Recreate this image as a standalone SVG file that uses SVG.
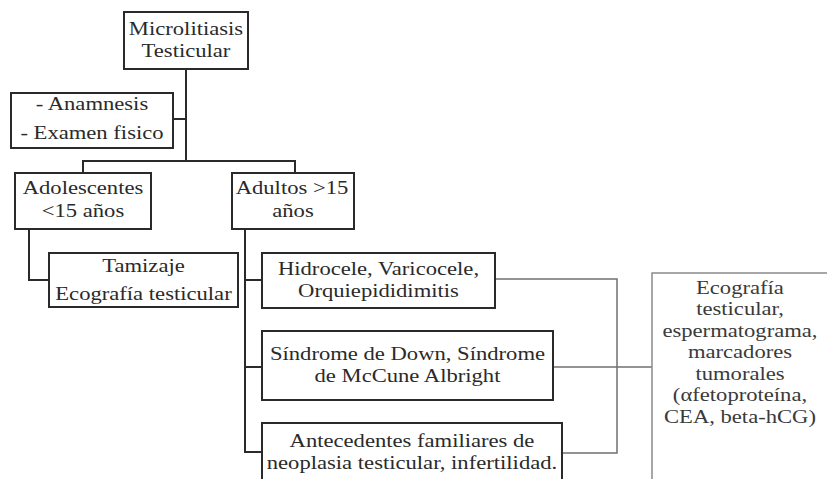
<svg xmlns="http://www.w3.org/2000/svg" width="827" height="479" viewBox="0 0 827 479">
<style>
  .box{fill:#fff;stroke:#2a2a2a;stroke-width:2}
  .box2{fill:#fff;stroke:#8a8a8a;stroke-width:1.5}
  .ln{fill:none;stroke:#2a2a2a;stroke-width:2}
  .ln2{fill:none;stroke:#707070;stroke-width:1.5}
  text{font-family:"Liberation Serif","Times New Roman",Times,serif;font-size:19.5px;fill:#2a2a2a;text-anchor:middle;transform-box:fill-box;transform-origin:center;transform:scaleX(1.16)}
  .t2{fill:#3a3a3a}
</style>
<rect width="827" height="479" fill="#fff"/>
<g id="connectors">
  <path class="ln" d="M186,69 V161"/>
  <path class="ln" d="M173,119 H186"/>
  <path class="ln" d="M83,173 V161 H295 V173"/>
  <path class="ln" d="M29,229 V280 H49"/>
  <path class="ln" d="M245,229 V452 H262"/>
  <path class="ln" d="M245,280 H262"/>
  <path class="ln" d="M245,367 H262"/>
  <path class="ln2" d="M495,279 H617 V453 H562"/>
  <path class="ln2" d="M553,367 H652"/>
</g>
<g id="n-micro">
  <rect class="box" x="124" y="12" width="124" height="57"/>
  <text x="186" y="35">Microlitiasis</text>
  <text x="186" y="57">Testicular</text>
</g>
<g id="n-anamnesis">
  <rect class="box" x="11" y="93" width="162" height="55"/>
  <text x="92" y="110">- Anamnesis</text>
  <text x="92" y="139">- Examen fisico</text>
</g>
<g id="n-adolescentes">
  <rect class="box" x="15" y="173" width="136" height="56"/>
  <text x="83" y="194">Adolescentes</text>
  <text x="83" y="217">&lt;15 años</text>
</g>
<g id="n-adultos">
  <rect class="box" x="232" y="173" width="122" height="56"/>
  <text x="292" y="194">Adultos &gt;15</text>
  <text x="293" y="217">años</text>
</g>
<g id="n-tamizaje">
  <rect class="box" x="49" y="253" width="189" height="54"/>
  <text x="143.5" y="272">Tamizaje</text>
  <text x="143.5" y="300">Ecografía testicular</text>
</g>
<g id="n-hidrocele">
  <rect class="box" x="262" y="253" width="233" height="55"/>
  <text x="378.5" y="275">Hidrocele, Varicocele,</text>
  <text x="378.5" y="297">Orquiepididimitis</text>
</g>
<g id="n-sindrome">
  <rect class="box" x="262" y="331" width="291" height="69"/>
  <text x="407.5" y="360">Síndrome de Down, Síndrome</text>
  <text x="407.5" y="382">de McCune Albright</text>
</g>
<g id="n-antecedentes">
  <rect class="box" x="262" y="423" width="300" height="70"/>
  <text x="412" y="447">Antecedentes familiares de</text>
  <text x="412" y="469">neoplasia testicular, infertilidad.</text>
</g>
<g id="n-ecografia">
  <rect class="box2" x="652" y="273" width="190" height="220"/>
  <text class="t2" x="740" y="294">Ecografía</text>
  <text class="t2" x="740" y="315.5">testicular,</text>
  <text class="t2" x="740" y="337">espermatograma,</text>
  <text class="t2" x="740" y="358.5">marcadores</text>
  <text class="t2" x="740" y="380">tumorales</text>
  <text class="t2" x="740" y="401.5">(αfetoproteína,</text>
  <text class="t2" x="740" y="423">CEA, beta-hCG)</text>
</g>
</svg>
